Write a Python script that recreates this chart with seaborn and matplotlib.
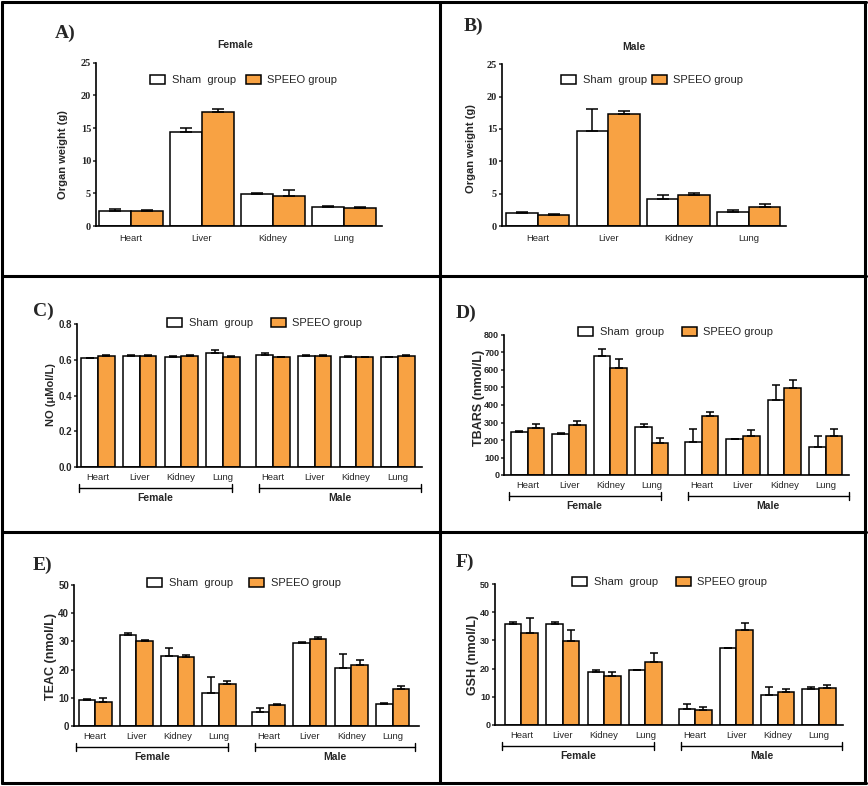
import numpy as np
import pandas as pd
import seaborn as sns
import matplotlib.pyplot as plt
from matplotlib.lines import Line2D
from matplotlib.ticker import FormatStrFormatter

W, H = 868, 786

organs = ["Heart", "Liver", "Kidney", "Lung"]
groups = ["Sham  group", "SPEEO group"]
sexes = ["Female", "Male"]
colores = ["#FFFFFF", "#F8A243"]

# A) peso dos orgaos, femeas (media, SEM)
wt_f_sham = [2.3, 14.44, 4.85, 2.9]
wt_f_sham_err = [0.25, 0.5, 0.15, 0.2]
wt_f_speeo = [2.3, 17.4, 4.64, 2.7]
wt_f_speeo_err = [0.2, 0.45, 0.82, 0.2]

# B) peso dos orgaos, machos
wt_m_sham = [1.96, 14.74, 4.12, 2.2]
wt_m_sham_err = [0.24, 3.36, 0.62, 0.2]
wt_m_speeo = [1.75, 17.3, 4.85, 2.9]
wt_m_speeo_err = [0.15, 0.5, 0.25, 0.45]

# C) NO - femeas (4 orgaos) seguidas de machos (4 orgaos)
no_sham = [0.609, 0.622, 0.616, 0.635, 0.626, 0.622, 0.616, 0.613]
no_sham_err = [0.002, 0.003, 0.004, 0.017, 0.013, 0.003, 0.003, 0.002]
no_speeo = [0.622, 0.622, 0.622, 0.616, 0.613, 0.622, 0.616, 0.622]
no_speeo_err = [0.003, 0.003, 0.002, 0.004, 0.003, 0.003, 0.002, 0.003]

# D) TBARS
tbars_sham = [244, 232, 678, 272, 190, 204, 429, 160]
tbars_sham_err = [9, 8, 42, 19, 71, 4, 83, 65]
tbars_speeo = [270, 284, 613, 185, 339, 223, 495, 225]
tbars_speeo_err = [21, 26, 48, 25, 23, 34, 48, 38]

# E) TEAC
teac_sham = [9.1, 32.1, 24.9, 11.6, 5.1, 29.5, 20.7, 7.8]
teac_sham_err = [0.4, 0.9, 2.8, 5.8, 1.4, 0.2, 4.7, 0.4]
teac_speeo = [8.65, 30.1, 24.5, 14.8, 7.3, 31.0, 21.6, 13.2]
teac_speeo_err = [1.3, 0.5, 0.7, 1.1, 0.5, 0.4, 1.9, 1.0]

# F) GSH
gsh_sham = [35.7, 35.7, 18.9, 19.5, 5.7, 27.3, 10.5, 12.6]
gsh_sham_err = [0.8, 0.8, 0.7, 0.1, 1.6, 0.1, 3.0, 0.9]
gsh_speeo = [32.7, 29.8, 17.4, 22.2, 5.2, 33.6, 11.6, 13.1]
gsh_speeo_err = [5.1, 3.8, 1.4, 3.4, 1.1, 2.7, 1.3, 1.2]

sns.set_style("ticks")
plt.rcParams["font.family"] = ["Liberation Sans", "DejaVu Sans"]
NARROW = ["Liberation Sans Narrow", "Liberation Sans", "DejaVu Sans"]

fig = plt.figure(figsize=(W / 100, H / 100), dpi=100)


def rect(l, t, r, b):
    return [l / W, 1 - b / H, (r - l) / W, (b - t) / H]


def fx(px):
    return px / W


def fy(py):
    return 1 - py / H


def painel(spec):
    ax = fig.add_axes(rect(*spec["rect"]))
    n = len(spec["sham"])
    if n == 4:
        pos = np.arange(4, dtype=float)
    else:
        pos = np.concatenate([np.arange(4), np.arange(4) + 4.2])
    df = pd.DataFrame({
        "pos": np.tile(pos, 2),
        "valor": list(spec["sham"]) + list(spec["speeo"]),
        "grupo": [groups[0]] * n + [groups[1]] * n,
    })
    sns.barplot(data=df, x="pos", y="valor", hue="grupo", hue_order=groups,
                palette=colores, saturation=1, native_scale=True,
                width=spec["width"], errorbar=None, edgecolor="black",
                linewidth=1.1, ax=ax)

    # barras de erro so para cima (estilo GraphPad)
    for cont, err in zip(ax.containers, [spec["sham_err"], spec["speeo_err"]]):
        barras = sorted(cont.patches, key=lambda b: b.get_x())
        cx = [b.get_x() + b.get_width() / 2 for b in barras]
        topo = [b.get_height() for b in barras]
        ax.errorbar(cx, topo, yerr=[np.zeros(n), err], fmt="none",
                    ecolor="black", elinewidth=1.1, capsize=spec["cap"],
                    capthick=1.1, zorder=1)

    ax.set_xlim(*spec["xlim"])
    ax.set_ylim(*spec["ylim"])
    ax.set_yticks(spec["yticks"])
    ax.set_xticks(pos)
    ax.set_xticklabels(organs * (n // 4), fontsize=6.8)
    ax.tick_params(axis="x", length=0, pad=spec["xpad"])
    ax.tick_params(axis="y", length=2.5, width=1.1, pad=1)
    for t in ax.get_yticklabels():
        t.set_fontweight("bold")
        t.set_fontsize(spec["yfs"])
        if spec.get("serif"):
            t.set_family("Liberation Serif")
        else:
            t.set_family(NARROW)
    if spec.get("fmt"):
        ax.yaxis.set_major_formatter(FormatStrFormatter(spec["fmt"]))
    sns.despine(ax=ax)
    for s in ["left", "bottom"]:
        ax.spines[s].set_linewidth(1.2)
        ax.spines[s].set_color("black")
    ax.set_xlabel("")
    ax.set_ylabel(spec["ylabel"], fontsize=spec["ylfs"], fontweight="bold")
    ax.yaxis.set_label_coords(*spec["ylpos"])

    lx, ly = spec["legend"]
    sns.move_legend(ax, "center left", bbox_to_anchor=(fx(lx), fy(ly)),
                    bbox_transform=fig.transFigure, ncol=2, frameon=False,
                    title="", fontsize=8, handlelength=1.35, handleheight=0.85,
                    handletextpad=0.6, columnspacing=spec["colsp"],
                    borderpad=0, borderaxespad=0)

    px_l, py_l = spec["letter"]
    fig.text(fx(px_l), fy(py_l), spec["label"], family="Liberation Serif",
             fontweight="bold", fontsize=14, ha="left", va="center")

    if "title" in spec:
        tx, ty, tt = spec["title"]
        fig.text(fx(tx), fy(ty), tt, fontsize=7.5, fontweight="bold",
                 ha="center", va="center")

    if n == 8:
        alt = ax.get_position().height * H
        trans = ax.get_xaxis_transform()
        yb = -21 / alt
        cap = 4 / alt
        for (x0, x1), sexo in zip([(-0.46, 3.21), (3.87, 7.75)], sexes):
            ax.add_line(Line2D([x0, x1], [yb, yb], transform=trans, color="black",
                               lw=1.0, clip_on=False))
            for xx in (x0, x1):
                ax.add_line(Line2D([xx, xx], [yb - cap, yb + cap], transform=trans,
                                   color="black", lw=1.0, clip_on=False))
            ax.text((x0 + x1) / 2, -31 / alt, sexo, transform=trans, ha="center",
                    va="center", fontsize=7.5, fontweight="bold")
    return ax


paineis = [
    dict(rect=(96, 62.7, 382, 226), sham=wt_f_sham, sham_err=wt_f_sham_err,
         speeo=wt_f_speeo, speeo_err=wt_f_speeo_err, width=0.9, cap=4.5,
         xlim=(-0.49, 3.54), ylim=(0, 25), yticks=np.arange(0, 26, 5),
         ylabel="Organ weight (g)", ylfs=8, ylpos=(-0.098, 0.44), yfs=7.5,
         serif=True, xpad=6, legend=(150, 80), colsp=0.9, letter=(55, 33),
         label="A)", title=(235, 45, "Female")),
    dict(rect=(502, 64.3, 786, 226), sham=wt_m_sham, sham_err=wt_m_sham_err,
         speeo=wt_m_speeo, speeo_err=wt_m_speeo_err, width=0.9, cap=4.5,
         xlim=(-0.51, 3.53), ylim=(0, 25), yticks=np.arange(0, 26, 5),
         ylabel="Organ weight (g)", ylfs=8, ylpos=(-0.092, 0.476), yfs=7.5,
         serif=True, xpad=6, legend=(561, 80), colsp=0.45, letter=(464, 26),
         label="B)", title=(634, 47, "Male")),
    dict(rect=(77, 324, 422, 467), sham=no_sham, sham_err=no_sham_err,
         speeo=no_speeo, speeo_err=no_speeo_err, width=0.8, cap=3,
         xlim=(-0.5, 7.78), ylim=(0, 0.8), yticks=np.arange(0, 0.81, 0.2),
         fmt="%.1f", ylabel="NO (\u03bcMol/L)", ylfs=8, ylpos=(-0.06, 0.51),
         yfs=7, xpad=4, legend=(167, 323), colsp=1.6, letter=(33, 311),
         label="C)"),
    dict(rect=(504, 335, 849, 475), sham=tbars_sham, sham_err=tbars_sham_err,
         speeo=tbars_speeo, speeo_err=tbars_speeo_err, width=0.8, cap=3,
         xlim=(-0.57, 7.76), ylim=(0, 800), yticks=np.arange(0, 801, 100),
         ylabel="TBARS (nmol/L)", ylfs=9, ylpos=(-0.055, 0.55), yfs=6.5,
         xpad=4, legend=(578, 332), colsp=1.6, letter=(456, 313), label="D)"),
    dict(rect=(74, 585, 419, 726), sham=teac_sham, sham_err=teac_sham_err,
         speeo=teac_speeo, speeo_err=teac_speeo_err, width=0.8, cap=3,
         xlim=(-0.51, 7.84), ylim=(0, 50), yticks=np.arange(0, 51, 10),
         ylabel="TEAC (nmol/L)", ylfs=9, ylpos=(-0.05, 0.49), yfs=7,
         xpad=4, legend=(147, 583), colsp=1.5, letter=(33, 565), label="E)"),
    dict(rect=(495, 584, 843, 725), sham=gsh_sham, sham_err=gsh_sham_err,
         speeo=gsh_speeo, speeo_err=gsh_speeo_err, width=0.8, cap=3,
         xlim=(-0.64, 7.78), ylim=(0, 50), yticks=np.arange(0, 51, 10),
         ylabel="GSH (nmol/L)", ylfs=9, ylpos=(-0.047, 0.50), yfs=6.5,
         xpad=4, legend=(572, 582), colsp=1.6, letter=(456, 562), label="F)"),
]

for spec in paineis:
    painel(spec)

# moldura dos paineis
moldura = [
    ((2, 2), (866, 2)), ((2, 783), (866, 783)),
    ((2, 2), (2, 783)), ((865, 2), (865, 783)),
    ((440, 2), (440, 783)), ((2, 276), (866, 276)), ((2, 532), (866, 532)),
]
for (x0, y0), (x1, y1) in moldura:
    fig.add_artist(Line2D([fx(x0), fx(x1)], [fy(y0), fy(y1)],
                          transform=fig.transFigure, color="black", lw=2.2))

fig.savefig("out.png", dpi=100)
